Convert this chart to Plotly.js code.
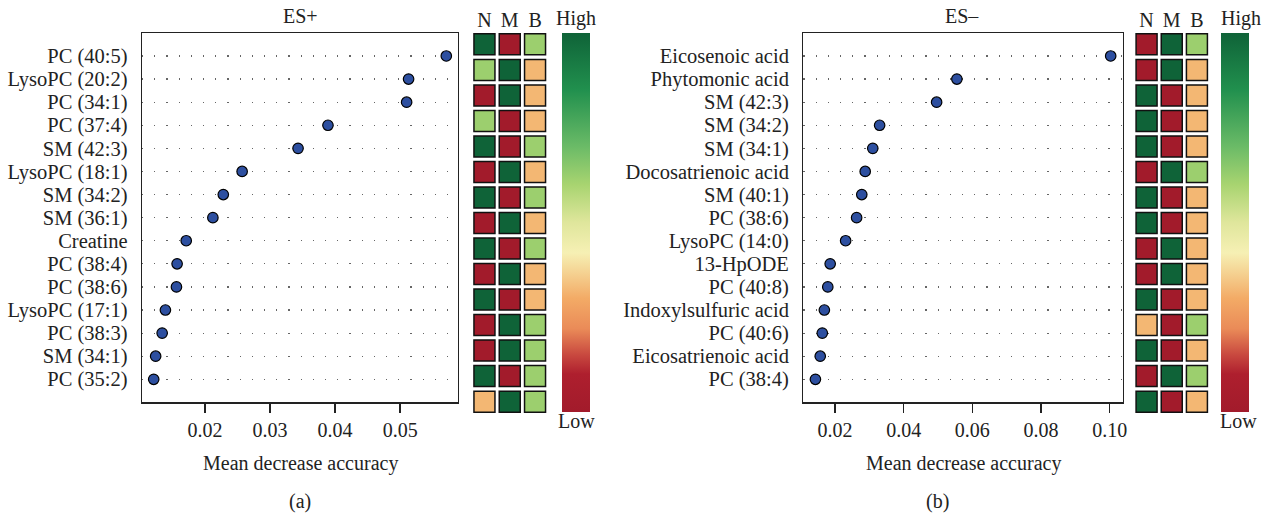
<!DOCTYPE html>
<html>
<head>
<meta charset="utf-8">
<script src="https://cdn.plot.ly/plotly-3.0.1.min.js"></script>
<style>html,body{margin:0;padding:0;background:#fff;}#chart{width:1266px;height:518px;}</style>
</head>
<body>
<div id="chart"></div>
<script>
// ---- Data ----
const leftLabels = ['PC (40:5)','LysoPC (20:2)','PC (34:1)','PC (37:4)','SM (42:3)','LysoPC (18:1)','SM (34:2)','SM (36:1)','Creatine','PC (38:4)','PC (38:6)','LysoPC (17:1)','PC (38:3)','SM (34:1)','PC (35:2)'];
const leftValues = [0.0571,0.0513,0.0510,0.0389,0.0343,0.0257,0.0228,0.0212,0.0171,0.0157,0.0156,0.0139,0.0134,0.0124,0.0121];

const rightLabels = ['Eicosenoic acid','Phytomonic acid','SM (42:3)','SM (34:2)','SM (34:1)','Docosatrienoic acid','SM (40:1)','PC (38:6)','LysoPC (14:0)','13-HpODE','PC (40:8)','Indoxylsulfuric acid','PC (40:6)','Eicosatrienoic acid','PC (38:4)'];
const rightValues = [0.1003,0.0555,0.0496,0.0330,0.0310,0.0288,0.0278,0.0263,0.0231,0.0186,0.0179,0.0169,0.0163,0.0157,0.0143];

const groups = ['N','M','B'];
// relative level per group (1 = high, 0 = low)
const leftN = [1,0.62,0,0.62,1,0,1,0,1,0,1,0,0,1,0.32];
const leftM = [0,1,1,0,0,1,0,1,0,1,0,1,1,0,1];
const leftB = [0.62,0.32,0.32,0.32,0.62,0.32,0.62,0.32,0.62,0.32,0.32,0.62,0.62,0.62,0.62];

const rightN = [0,0,1,1,1,0,1,1,0,0,1,0.32,1,0,1];
const rightM = [1,1,0,0,0,1,0,0,1,1,0,0,0,1,0];
const rightB = [0.62,0.32,0.32,0.32,0.32,0.62,0.32,0.32,0.32,0.32,0.32,0.62,0.32,0.62,0.32];

const leftTickVals = [0.02,0.03,0.04,0.05];
const rightTickVals = [0.02,0.04,0.06,0.08,0.10];

// ---- Styles ----
const FONT = 'Liberation Serif, Times New Roman, serif';
const colorscale = [
  [0,'#a21b2b'],[0.1,'#ae1f2e'],[0.15,'#c8483f'],[0.22,'#ea8b58'],[0.3,'#f3ab66'],
  [0.42,'#f6f0b4'],[0.5,'#dfe69c'],[0.6,'#a8d470'],[0.7,'#6bbb67'],[0.85,'#21904e'],[1,'#0f6338']
];

function rowPos(n){ return Array.from({length:n},(_,i)=>n-i); }
function cellTrace(cols, xa, ya, cbx){
  const xs=[], ys=[], cs=[];
  cols.forEach((col,ci)=>col.forEach((v,ri)=>{xs.push(ci); ys.push(ri+1); cs.push(v);}));
  return {
    type:'scatter', mode:'markers', x:xs, y:ys, xaxis:xa, yaxis:ya, hoverinfo:'skip', showlegend:false,
    marker:{symbol:'square', size:21, color:cs, colorscale:colorscale, cmin:0, cmax:1,
      line:{color:'#111', width:1.5},
      showscale:true,
      colorbar:{x:cbx, xanchor:'left', xpad:0, ypad:0, thickness:28, lenmode:'pixels', len:379,
        y:0.5695, yanchor:'middle', outlinewidth:0, showticklabels:false, ticks:''}}
  };
}
function dotTrace(vals, xa, ya){
  return {type:'scatter', mode:'markers', x:vals, y:rowPos(vals.length), xaxis:xa, yaxis:ya, showlegend:false,
    marker:{size:10.5, color:'#2d4fa0', line:{color:'#000', width:1.2}}};
}

const traces = [
  dotTrace(leftValues,'x','y'),
  dotTrace(rightValues,'x2','y2'),
  cellTrace([leftN,leftM,leftB],'x3','y3',0.4437),
  cellTrace([rightN,rightM,rightB],'x4','y4',0.9645)
];

const dotX = (dom, range, tv) => ({domain:dom, range:range, tickvals:tv, ticktext:tv.map(v=>v.toFixed(2)),
  ticks:'outside', ticklen:9, tickwidth:1.3, tickcolor:'#222', showline:true, linecolor:'#222', linewidth:1.3,
  mirror:true, showgrid:false, zeroline:false, tickfont:{family:FONT,size:20,color:'#222'}, fixedrange:true});
const dotY = (labels) => ({domain:[0.2232,0.9365], range:[0,16], tickvals:rowPos(labels.length), ticktext:labels,
  ticks:'', showline:true, linecolor:'#222', linewidth:1.3, mirror:true, showgrid:true, gridcolor:'#666',
  gridwidth:1.2, griddash:'1.2px,11px', zeroline:false, ticklabelstandoff:9,
  tickfont:{family:FONT,size:20.5,color:'#222'}, fixedrange:true});
const cellX = (dom, anchor) => ({domain:dom, anchor:anchor, range:[-0.5,2.5], side:'top', tickvals:[0,1,2], ticktext:groups,
  ticks:'', showline:false, showgrid:false, zeroline:false, tickfont:{family:FONT,size:20,color:'#222'}, fixedrange:true});
const cellY = (anchor) => ({domain:[0.2,0.939], anchor:anchor, range:[15.5,0.5], showticklabels:false, ticks:'',
  showline:false, showgrid:false, zeroline:false, fixedrange:true});

const ann = (text,x,y,size) => ({text:text, x:x, y:y, xref:'paper', yref:'paper', xanchor:'center', yanchor:'middle',
  showarrow:false, font:{family:FONT,size:size||20,color:'#222'}});

const layout = {
  width:1266, height:518, margin:{l:0,r:0,t:0,b:0}, paper_bgcolor:'#fff', plot_bgcolor:'#fff',
  font:{family:FONT,color:'#222'},
  xaxis: Object.assign(dotX([142/1266, 458/1266],[0.0103,0.0589],leftTickVals),{anchor:'y'}),
  yaxis: Object.assign(dotY(leftLabels),{anchor:'x'}),
  xaxis2: Object.assign(dotX([803.3/1266,1122.7/1266],[0.01077,0.1038],rightTickVals),{anchor:'y2'}),
  yaxis2: Object.assign(dotY(rightLabels),{anchor:'x2'}),
  xaxis3: cellX([471.8/1266,547.7/1266],'y3'),
  yaxis3: cellY('x3'),
  xaxis4: cellX([1134/1266,1209.5/1266],'y4'),
  yaxis4: cellY('x4'),
  annotations:[
    ann('ES+', 300/1266, 1-16.5/518),
    ann('ES–', 962/1266, 1-16.5/518),
    ann('Mean decrease accuracy', 300/1266, 1-463/518),
    ann('Mean decrease accuracy', 963/1266, 1-463/518),
    ann('(a)', 300/1266, 1-501/518),
    ann('(b)', 937.5/1266, 1-501/518),
    ann('High', 576/1266, 1-18/518),
    ann('Low', 576/1266, 1-421/518),
    ann('High', 1241/1266, 1-18/518),
    ann('Low', 1238/1266, 1-421/518)
  ]
};

Plotly.newPlot('chart', traces, layout, {staticPlot:true, displayModeBar:false});
</script>
</body>
</html>
